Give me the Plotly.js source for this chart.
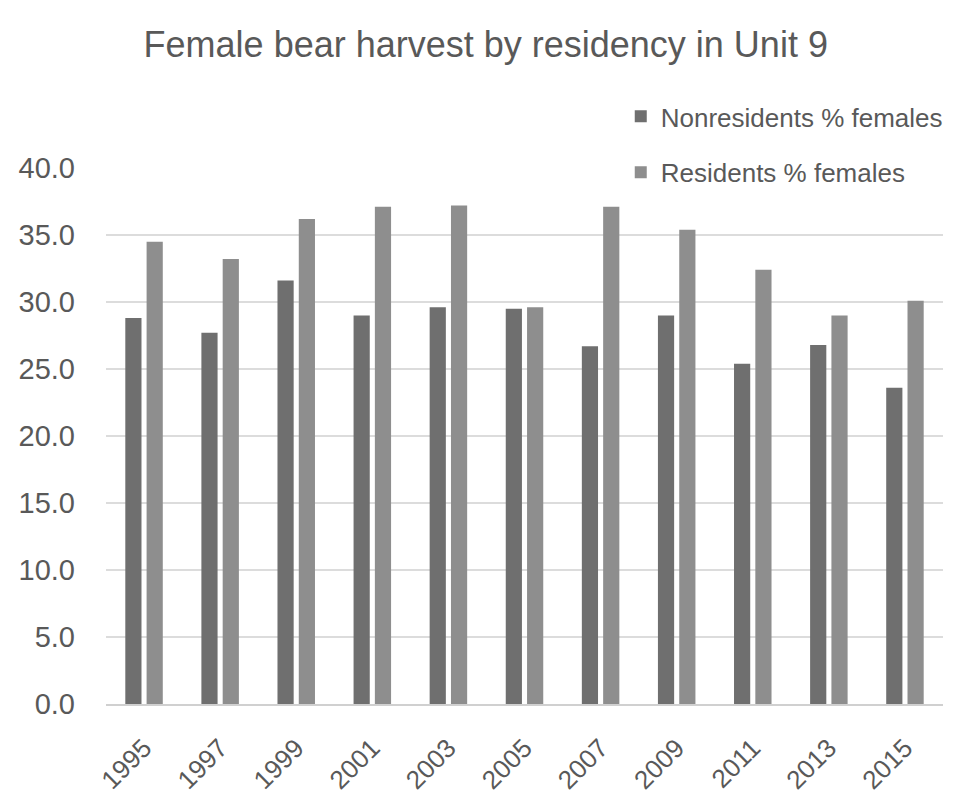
<!DOCTYPE html>
<html>
<head>
<meta charset="utf-8">
<script src="https://cdn.plot.ly/plotly-3.0.1.min.js"></script>
<style>html,body{margin:0;padding:0;background:#fff;}</style>
</head>
<body>
<div id="chart" style="width:960px;height:810px;"></div>
<script>
const years = ['1995','1997','1999','2001','2003','2005','2007','2009','2011','2013','2015'];
const nonresidents = [28.8, 27.7, 31.6, 29.0, 29.6, 29.5, 26.7, 29.0, 25.4, 26.8, 23.6];
const residents = [34.5, 33.2, 36.2, 37.1, 37.2, 29.6, 37.1, 35.4, 32.4, 29.0, 30.1];
const tickVals = [0, 5, 10, 15, 20, 25, 30, 35, 40];

const FONT = '"Liberation Sans", Arial, sans-serif';
const traces = [
  {type:'bar', name:'Nonresidents % females', x:years, y:nonresidents,
   marker:{color:'#6f6f6f'}, legendgroup:'a'},
  {type:'bar', name:'Residents % females', x:years, y:residents,
   marker:{color:'#8e8e8e'}, legendgroup:'b'}
];
const layout = {
  width:960, height:810,
  paper_bgcolor:'#fff', plot_bgcolor:'#fff',
  font:{family:FONT, color:'#595959'},
  title:{text:'Female bear harvest by residency in Unit 9', x:0.506, xanchor:'center', y:0.945, yanchor:'middle',
         font:{size:36, color:'#595959', family:FONT}},
  margin:{l:106, r:17, t:168, b:106},
  barmode:'group', bargap:0.44, bargroupgap:0.24,
  showlegend:true,
  legend:{x:0.615, xanchor:'left', y:1.140, yanchor:'top', font:{size:26, color:'#595959'},
          tracegroupgap:19, bgcolor:'rgba(0,0,0,0)', itemwidth:30},
  xaxis:{type:'category', tickangle:-45, tickfont:{size:26, color:'#595959'},
         showline:true, linecolor:'#d0d0d0', linewidth:1.5, ticks:'', showgrid:false,
         ticklabelstandoff:17},
  yaxis:{range:[0,40], tickvals:tickVals, tickformat:'.1f', tickfont:{size:29, color:'#595959'},
         showgrid:true, gridcolor:'#dcdcdc', gridwidth:1.5, zeroline:false, showline:false,
         ticklabelstandoff:30}
};
Plotly.newPlot('chart', traces, layout, {displayModeBar:false, staticPlot:true});
</script>
</body>
</html>
